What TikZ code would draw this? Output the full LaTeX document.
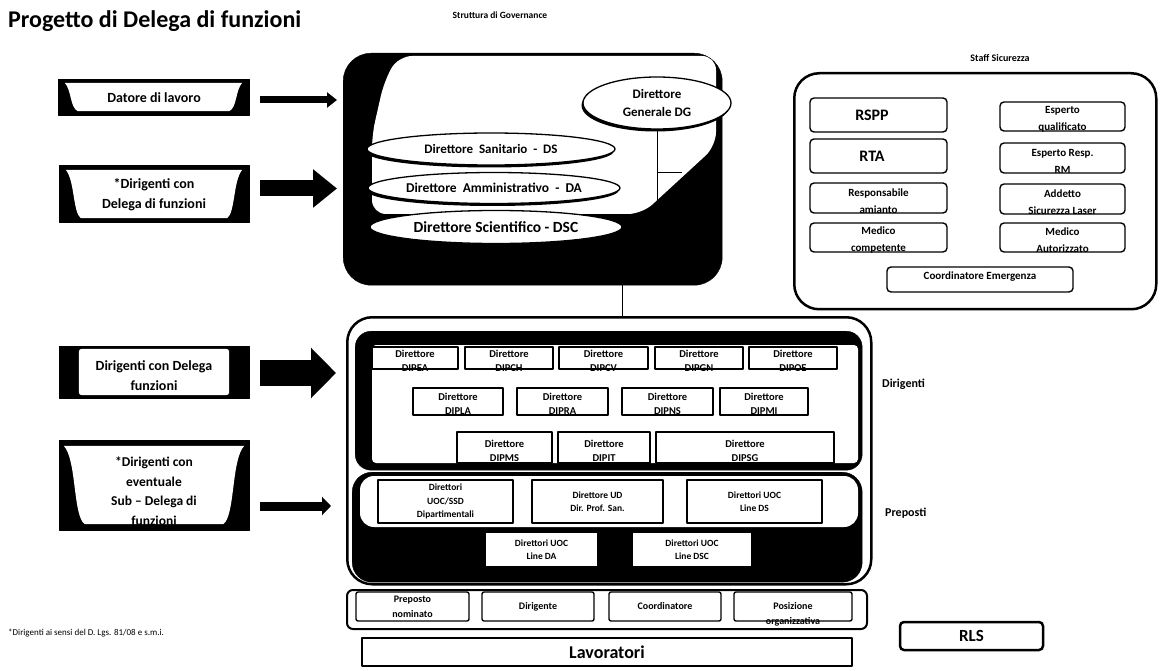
\documentclass[tikz,border=0pt]{standalone}
\usepackage{fontspec}
\setmainfont{Carlito}
\usetikzlibrary{arrows.meta,shapes.geometric,shadows,calc}
\begin{document}
\begin{tikzpicture}[x=1pt,y=-1pt,line join=round]
\tikzset{
 blk/.style={fill=black,draw=black,inner sep=0pt},
 lefttxt/.style={font=\bfseries\fontsize{14}{20}\selectfont,align=center,inner sep=0pt},
 ell/.style={ellipse,draw,line width=1.3pt,fill=white,inner sep=0pt,align=center,
   drop shadow={shadow xshift=-1.5pt,shadow yshift=-2.5pt,opacity=1,fill=black}},
 staffb/.style={draw,line width=1.4pt,rounded corners=4pt,fill=white,inner sep=0pt},
 stafft/.style={inner sep=0pt,align=center,font=\bfseries\fontsize{11}{17}\selectfont},
 bigt/.style={inner sep=0pt,align=center,font=\bfseries\fontsize{16}{18}\selectfont},
 dirb/.style={draw,line width=1.2pt,fill=white,inner sep=0pt},
 dirt/.style={inner sep=0pt,align=center,font=\bfseries\fontsize{10.5}{14}\selectfont},
 prepb/.style={draw,line width=1.2pt,fill=white,inner sep=0pt,align=center,font=\bfseries\fontsize{9.5}{13.5}\selectfont},
 rowb/.style={draw,line width=1.4pt,rounded corners=2pt,fill=white,inner sep=0pt,align=center,font=\bfseries\fontsize{10}{15}\selectfont},
 conn/.style={line width=1pt},
 side/.style={font=\bfseries\fontsize{12}{14}\selectfont,anchor=west,inner sep=0pt},
 hdr/.style={font=\bfseries\fontsize{9.5}{11}\selectfont,inner sep=0pt},
}
\fill[white] (0,0) rectangle (1160,671);
\useasboundingbox (0,0) rectangle (1160,671);

% titles
\node[anchor=west,inner sep=0pt,font=\bfseries\fontsize{24}{27}\selectfont] (title) at (8,21) {Progetto di Delega di funzioni};
\node[hdr] (govt) at (500,15) {Struttura di Governance};
\node[hdr,font=\bfseries\fontsize{10}{12}\selectfont] (stafft) at (1000,58) {Staff Sicurezza};
\node[anchor=west,inner sep=0pt,font=\fontsize{9}{11}\selectfont] (foot) at (8,633) {*Dirigenti ai sensi del D. Lgs. 81/08 e s.m.i.};

% left boxes
\node[blk,minimum width=191pt,minimum height=36pt] (b1) at (153.5,97) {};
\fill[white] ([shift={(7,4)}]b1.north west) -- ([shift={(-7,4)}]b1.north east)
  .. controls ([shift={(-14,12)}]b1.north east) and ([shift={(-12,-8)}]b1.south east) .. ([shift={(-20,-4)}]b1.south east)
  -- ([shift={(20,-4)}]b1.south west)
  .. controls ([shift={(12,-8)}]b1.south west) and ([shift={(14,12)}]b1.north west) .. cycle;
\node[lefttxt] (t1) at (154,98) {Datore di lavoro};

\node[blk,minimum width=190pt,minimum height=57pt] (b2) at (154,193.5) {};
\fill[white] ([shift={(7,5)}]b2.north west) -- ([shift={(-7,5)}]b2.north east)
  .. controls ([shift={(-16,16)}]b2.north east) and ([shift={(-14,-10)}]b2.south east) .. ([shift={(-22,-4)}]b2.south east)
  -- ([shift={(22,-4)}]b2.south west)
  .. controls ([shift={(14,-10)}]b2.south west) and ([shift={(16,16)}]b2.north west) .. cycle;
\node[lefttxt] (t2) at (154,195) {*Dirigenti con\\Delega di funzioni};

\node[blk,minimum width=190pt,minimum height=52pt] (b3) at (154,372) {};
\fill[white,rounded corners=3pt] ([shift={(20,3)}]b3.north west) rectangle ([shift={(-20,-3)}]b3.south east);
\node[lefttxt] (t3) at (154,376) {Dirigenti con Delega\\funzioni};

\node[blk,minimum width=190pt,minimum height=90pt] (b4) at (154,485) {};
\fill[white] ([shift={(5,6)}]b4.north west) -- ([shift={(-5,6)}]b4.north east)
  .. controls ([shift={(-18,20)}]b4.north east) and ([shift={(-14,-14)}]b4.south east) .. ([shift={(-26,-6)}]b4.south east)
  -- ([shift={(26,-6)}]b4.south west)
  .. controls ([shift={(14,-14)}]b4.south west) and ([shift={(18,20)}]b4.north west) .. cycle;
\node[lefttxt,font=\bfseries\fontsize{13.5}{19.5}\selectfont] (t4) at (154,491) {*Dirigenti con\\eventuale\\Sub – Delega di\\funzioni};

% governance box
\node[blk,rounded corners=28pt,minimum width=379pt,minimum height=232pt,anchor=north west] (gov) at (343,53) {};
\fill[white,rounded corners=14pt] (398,56) -- (716,56) -- (716,146) -- (642,214) -- (372,214) -- (372,135) -- (384,82) -- cycle;

\node[ell,minimum width=148pt,minimum height=52pt,font=\bfseries\fontsize{13}{18}\selectfont] (dg) at (657,103) {Direttore\\Generale DG};
\coordinate (dgend) at (657,217);
\coordinate (dgstub) at (682,173);
\draw[conn] (dg.south) -- (dgend);
\draw[conn] (dg.south |- dgstub) -- (dgstub);
\node[ell,minimum width=248pt,minimum height=32pt,font=\bfseries\fontsize{13}{15}\selectfont] (ds) at (491,149) {Direttore\ \ Sanitario\ \ -\ \ DS};
\node[ell,minimum width=252pt,minimum height=31pt,font=\bfseries\fontsize{13.5}{15}\selectfont] (da) at (494,188) {Direttore\ \ Amministrativo\ \ -\ \ DA};
\node[ell,minimum width=252pt,minimum height=33pt,font=\bfseries\fontsize{15.5}{17}\selectfont] (dsc) at (496,227) {Direttore Scientifico - DSC};

% staff box
\node[draw,line width=2.5pt,rounded corners=25pt,minimum width=362pt,minimum height=236pt,anchor=north west,inner sep=0pt] (staff) at (793,72) {};
\node[staffb,minimum width=137pt,minimum height=34pt] (rspp) at (878.5,115) {};
\node[bigt] (rspp-t) at (872,115) {RSPP};
\node[staffb,minimum width=137pt,minimum height=34pt] (rta) at (878.5,156) {};
\node[bigt] (rta-t) at (872,156) {RTA};
\node[staffb,minimum width=137pt,minimum height=30pt] (ram) at (878.5,198) {};
\node[stafft] (ram-t) at (878.5,201) {Responsabile\\amianto};
\node[staffb,minimum width=137pt,minimum height=29pt] (mco) at (878.5,237.5) {};
\node[stafft] (mco-t) at (878.5,240.5) {Medico\\competente};
\node[staffb,minimum width=125pt,minimum height=29pt] (equ) at (1062.5,116.5) {};
\node[stafft] (equ-t) at (1062.5,119.5) {Esperto\\qualificato};
\node[staffb,minimum width=125pt,minimum height=30pt] (erm) at (1062.5,158) {};
\node[stafft] (erm-t) at (1062.5,161) {Esperto Resp.\\RM};
\node[staffb,minimum width=125pt,minimum height=30pt] (asl) at (1062.5,199) {};
\node[stafft] (asl-t) at (1062.5,202) {Addetto\\Sicurezza Laser};
\node[staffb,minimum width=125pt,minimum height=29pt] (mau) at (1062.5,237.5) {};
\node[stafft] (mau-t) at (1062.5,240.5) {Medico\\Autorizzato};
\node[staffb,minimum width=186pt,minimum height=25pt] (cem) at (980,279.5) {};
\node[stafft] (cem-t) at (980,277) {Coordinatore Emergenza};

% dirigenti / preposti outer box
\node[draw,line width=2.5pt,rounded corners=25pt,minimum width=524pt,minimum height=267pt,anchor=north west,inner sep=0pt] (outer) at (346,316) {};
\coordinate (govc) at (622,285);
\draw[conn] (govc) -- (govc |- outer.north);

\node[blk,rounded corners=16pt,minimum width=507pt,minimum height=139pt,anchor=north west] (dirf) at (355,331) {};
\fill[white,rounded corners=4pt] (372,345) rectangle (858,463);

\node[dirb,minimum width=86pt,minimum height=22pt] (dipea) at (415,358) {};
\node[dirb,minimum width=88pt,minimum height=22pt] (dipch) at (509,358) {};
\node[dirb,minimum width=89pt,minimum height=22pt] (dipcv) at (603.5,358) {};
\node[dirb,minimum width=88pt,minimum height=22pt] (dipgn) at (699,358) {};
\node[dirb,minimum width=88pt,minimum height=22pt] (dipoe) at (793,358) {};
\node[dirb,minimum width=90pt,minimum height=27pt] (dipla) at (458,401.5) {};
\node[dirb,minimum width=91pt,minimum height=27pt] (dipra) at (562.5,401.5) {};
\node[dirb,minimum width=91pt,minimum height=27pt] (dipns) at (667.5,401.5) {};
\node[dirb,minimum width=88pt,minimum height=27pt] (dipmi) at (764,401.5) {};
\node[dirb,minimum width=95pt,minimum height=31pt] (dipms) at (504.5,447.5) {};
\node[dirb,minimum width=92pt,minimum height=31pt] (dipit) at (604,447.5) {};
\node[dirb,minimum width=178pt,minimum height=31pt] (dipsg) at (745,447.5) {};
\node[dirt] (dipea-t) at ([shift={(0,2.5)}]dipea.center) {Direttore\\DIPEA};
\node[dirt] (dipch-t) at ([shift={(0,2.5)}]dipch.center) {Direttore\\DIPCH};
\node[dirt] (dipcv-t) at ([shift={(0,2.5)}]dipcv.center) {Direttore\\DIPCV};
\node[dirt] (dipgn-t) at ([shift={(0,2.5)}]dipgn.center) {Direttore\\DIPGN};
\node[dirt] (dipoe-t) at ([shift={(0,2.5)}]dipoe.center) {Direttore\\DIPOE};
\node[dirt] (dipla-t) at ([shift={(0,2.5)}]dipla.center) {Direttore\\DIPLA};
\node[dirt] (dipra-t) at ([shift={(0,2.5)}]dipra.center) {Direttore\\DIPRA};
\node[dirt] (dipns-t) at ([shift={(0,2.5)}]dipns.center) {Direttore\\DIPNS};
\node[dirt] (dipmi-t) at ([shift={(0,2.5)}]dipmi.center) {Direttore\\DIPMI};
\node[dirt] (dipms-t) at ([shift={(0,3)}]dipms.center) {Direttore\\DIPMS};
\node[dirt] (dipit-t) at ([shift={(0,3)}]dipit.center) {Direttore\\DIPIT};
\node[dirt] (dipsg-t) at ([shift={(0,3)}]dipsg.center) {Direttore\\DIPSG};

% preposti
\node[blk,rounded corners=20pt,minimum width=510pt,minimum height=110pt,anchor=north west] (prepf) at (352,472) {};
\fill[white,rounded corners=14pt] (360,476) -- (858,476) -- (858,527) -- (360,527) -- cycle;
\node[prepb,minimum width=135pt,minimum height=43pt] (p1) at (445.5,501.5) {Direttori\\UOC/SSD\\Dipartimentali};
\node[prepb,minimum width=131pt,minimum height=43pt] (p2) at (597.5,501.5) {Direttore UD\\Dir. Prof. San.};
\node[prepb,minimum width=135pt,minimum height=43pt] (p3) at (754.5,501.5) {Direttori UOC\\Line DS};
\node[prepb,minimum width=113pt,minimum height=35pt] (p4) at (541.5,549.5) {Direttori UOC\\Line DA};
\node[prepb,minimum width=120pt,minimum height=35pt] (p5) at (692,549.5) {Direttori UOC\\Line DSC};

\node[side] (dirl) at (882,384) {Dirigenti};
\node[side] (prepl) at (885,513) {Preposti};

% bottom row
\node[draw,line width=2pt,rounded corners=6pt,minimum width=520pt,minimum height=39pt,anchor=north west,inner sep=0pt] (row) at (346,589) {};
\node[rowb,minimum width=113pt,minimum height=29pt] (bp1) at (412.5,606.5) {Preposto\\nominato};
\node[rowb,minimum width=112pt,minimum height=29pt] (bp2) at (538,606.5) {Dirigente};
\node[rowb,minimum width=112pt,minimum height=29pt] (bp3) at (665,606.5) {Coordinatore};
\node[rowb,minimum width=118pt,minimum height=29pt] (bp4) at (793,606.5) {};
\node[rowb,draw=none,fill=none] (bp4-t) at (793,614) {Posizione\\organizzativa};

\node[draw,line width=1.5pt,inner sep=0pt,minimum width=490pt,minimum height=28pt,font=\bfseries\fontsize{18}{20}\selectfont] (lav) at (607,652) {Lavoratori};
\node[draw,line width=2.5pt,rounded corners=4pt,inner sep=0pt,minimum width=143pt,minimum height=28pt,font=\bfseries\fontsize{17}{19}\selectfont] (rls) at (971.5,636) {RLS};

% arrows
\draw[line width=7pt,-{Triangle[length=10pt,width=15pt]}] ($(b1.east)+(11,3)$) -- ($(gov.west|-b1.east)+(-6,3)$);
\draw[line width=16pt,-{Triangle[length=24pt,width=37pt]}] ($(b2.east)+(11,-5)$) -- ($(gov.west|-b2.east)+(-6,-5)$);
\draw[line width=26pt,-{Triangle[length=25pt,width=49pt]}] ($(b3.east)+(11,1)$) -- ($(outer.west|-b3.east)+(-10,1)$);
\draw[line width=9pt,-{Triangle[length=9pt,width=18pt]}] ($(b4.east)+(11,21)$) -- ($(outer.west|-b4.east)+(-15,21)$);
\end{tikzpicture}
\end{document}
